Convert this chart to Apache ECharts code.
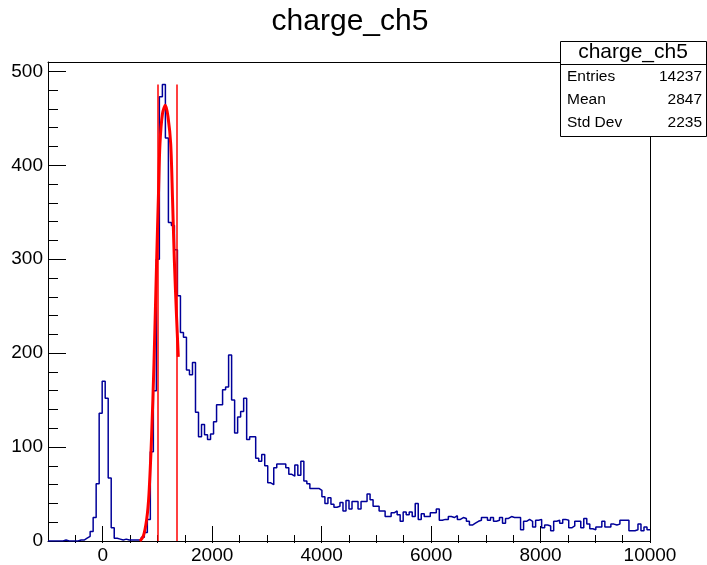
<!DOCTYPE html>
<html>
<head>
<meta charset="utf-8">
<title>charge_ch5</title>
<script src="https://cdn.jsdelivr.net/npm/echarts@6/dist/echarts.min.js"></script>
<style>
  html, body { margin: 0; padding: 0; background: #fff; }
  #chart { width: 707px; height: 565px; }
</style>
</head>
<body>
<div id="chart"></div>
<script>
// histogram binning (200 bins from -1000 to 10000)
const histMin = -1000
const histMax = 10000
const nBins = 200

// bin contents
const counts = [
  0, 0, 0, 0, 0, 1, 0, 0, 0, 0,
  1, 1, 3, 5, 10, 25, 61, 136, 170, 152,
  67, 14, 3, 2, 1, 2, 1, 1, 1, 1,
  1, 4, 9, 23, 95, 160, 300, 473, 486, 429,
  339, 336, 310, 261, 222, 217, 182, 177, 190, 137,
  111, 124, 113, 108, 114, 127, 145, 145, 161, 164,
  198, 150, 115, 132, 138, 152, 108, 111, 111, 88,
  85, 92, 80, 62, 60, 78, 82, 82, 82, 78,
  71, 69, 81, 70, 85, 64, 61, 56, 56, 56,
  54, 47, 40, 46, 39, 36, 37, 41, 32, 43,
  34, 42, 42, 34, 42, 42, 50, 44, 37, 37,
  32, 32, 26, 26, 30, 32, 28, 21, 31, 28,
  31, 26, 40, 23, 29, 26, 26, 30, 30, 34,
  22, 23, 23, 26, 25, 27, 23, 25, 24, 21,
  17, 19, 21, 22, 25, 25, 22, 25, 21, 22,
  25, 19, 24, 26, 25, 25, 25, 12, 21, 23,
  21, 15, 22, 23, 14, 17, 16, 11, 21, 22,
  19, 23, 22, 14, 16, 21, 21, 14, 24, 18,
  13, 12, 15, 15, 21, 15, 15, 18, 17, 18,
  22, 22, 22, 11, 11, 12, 18, 11, 15, 12,
]

// fitted curve, sampled by eye from the red line
const fitX = [680, 741, 803, 845, 894, 937, 986, 1019, 1046, 1092, 1145, 1192, 1242, 1275, 1308, 1348, 1381]
const fitY = [0, 5, 23, 50, 113, 190, 300, 370, 423, 455, 464, 452, 423, 365, 300, 240, 196]

// red markers of the fit range
const rangeLines = [1004, 1344]
const rangeTop = 486

// axis ticks
const xMajorTicks = [0, 2000, 4000, 6000, 8000, 10000]
const yMajorTicks = [0, 100, 200, 300, 400, 500]
const yMax = 510

// stats box
const statsTitle = 'charge_ch5'
const statsLabels = ['Entries', 'Mean', 'Std Dev']
const statsValues = ['14237', '2847', '2235']

const FONT = '"Liberation Sans", Arial, Helvetica, sans-serif'

// build step points: left edge of each bin, plus the right edge of the last one
const binWidth = (histMax - histMin) / nBins
const histPoints = counts.map((c, i) => [histMin + i * binWidth, c])
histPoints.push([histMax, counts[counts.length - 1]])

const fitPoints = fitX.map((x, i) => [x, fitY[i]])

// minor tick positions
const xMinorTicks = []
for (let v = histMin + 500; v < histMax; v += 500) {
  if (xMajorTicks.indexOf(v) < 0) xMinorTicks.push(v)
}
const yMinorTicks = []
for (let v = 20; v < 500; v += 20) {
  if (yMajorTicks.indexOf(v) < 0) yMinorTicks.push(v)
}

const grid = { left: 48, right: 57, top: 62, bottom: 22 }
const plotH = 565 - grid.top - grid.bottom

const chart = echarts.init(document.getElementById('chart'), null, { renderer: 'canvas' })

const statsX = 560
const statsW = 146
const statsTop = 41
const rowY = [77, 100, 123]

const graphics = [
  {
    type: 'text',
    x: 350,
    y: 22,
    z: 100,
    style: {
      text: 'charge_ch5',
      font: '30px ' + FONT,
      fill: '#000',
      textAlign: 'center',
      textVerticalAlign: 'middle',
    },
  },
  {
    type: 'rect',
    z: 100,
    shape: { x: statsX + 0.5, y: statsTop + 0.5, width: statsW, height: 95 },
    style: { fill: '#fff', stroke: '#000', lineWidth: 1 },
  },
  {
    type: 'line',
    z: 101,
    shape: { x1: statsX, y1: 64.5, x2: statsX + statsW + 1, y2: 64.5 },
    style: { stroke: '#000', lineWidth: 1 },
  },
  {
    type: 'text',
    z: 101,
    x: statsX + statsW / 2,
    y: 52,
    style: {
      text: statsTitle,
      font: '21px ' + FONT,
      fill: '#000',
      textAlign: 'center',
      textVerticalAlign: 'middle',
    },
  },
]

statsLabels.forEach((lab, i) => {
  graphics.push({
    type: 'text',
    z: 101,
    x: 567,
    y: rowY[i],
    style: { text: lab, font: '15.5px ' + FONT, fill: '#000', textAlign: 'left', textVerticalAlign: 'middle' },
  })
  graphics.push({
    type: 'text',
    z: 101,
    x: 702,
    y: rowY[i],
    style: { text: statsValues[i], font: '15.5px ' + FONT, fill: '#000', textAlign: 'right', textVerticalAlign: 'middle' },
  })
})

const black = { color: '#000', width: 1 }

// one axis helper, used for the labelled axes and the tick-only copies
function tickAxis(extra) {
  return Object.assign({
    type: 'value',
    axisLine: { show: false, onZero: false },
    axisTick: { show: false },
    axisLabel: { show: false },
    splitLine: { show: false },
  }, extra)
}

// x ticks: a top axis moved down onto the bottom edge, ticks pointing up into the frame
function xTopTicks(values, len) {
  return tickAxis({
    min: histMin,
    max: histMax,
    position: 'top',
    offset: -plotH,
    axisTick: { show: true, inside: false, length: len, customValues: values, lineStyle: black },
  })
}

const option = {
  animation: false,
  backgroundColor: '#fff',
  grid: {
    left: grid.left,
    right: grid.right,
    top: grid.top,
    bottom: grid.bottom,
  },
  xAxis: [
    tickAxis({
      min: histMin,
      max: histMax,
      position: 'bottom',
      axisLine: { show: true, onZero: false, lineStyle: black },
      axisTick: { show: true, inside: true, length: 15, customValues: xMajorTicks, lineStyle: black },
      axisLabel: {
        show: true,
        customValues: xMajorTicks,
        formatter: (v) => String(v),
        color: '#000',
        fontSize: 19,
        fontFamily: FONT,
        margin: 5,
      },
    }),
    xTopTicks(xMajorTicks, 15),
    xTopTicks(xMinorTicks, 8),
    // top edge of the frame
    tickAxis({
      min: histMin,
      max: histMax,
      position: 'top',
      offset: 0,
      axisLine: { show: true, onZero: false, lineStyle: black },
    }),
  ],
  yAxis: [
    tickAxis({
      min: 0,
      max: yMax,
      position: 'left',
      axisLine: { show: true, onZero: false, lineStyle: black },
      axisTick: { show: true, inside: true, length: 18, customValues: yMajorTicks, lineStyle: black },
      axisLabel: {
        show: true,
        customValues: yMajorTicks,
        formatter: (v) => String(v),
        color: '#000',
        fontSize: 19,
        fontFamily: FONT,
        margin: 5,
      },
    }),
    tickAxis({
      min: 0,
      max: yMax,
      position: 'left',
      offset: 0,
      axisTick: { show: true, inside: true, length: 10, customValues: yMinorTicks, lineStyle: black },
    }),
    // right edge of the frame
    tickAxis({
      min: 0,
      max: yMax,
      position: 'right',
      offset: 0,
      axisLine: { show: true, onZero: false, lineStyle: black },
    }),
  ],
  series: [
    {
      name: 'charge_ch5',
      type: 'line',
      xAxisIndex: 0,
      yAxisIndex: 0,
      step: 'end',
      symbol: 'none',
      data: histPoints,
      lineStyle: { color: '#000099', width: 1.5 },
      z: 3,
    },
    {
      name: 'fit',
      type: 'line',
      xAxisIndex: 0,
      yAxisIndex: 0,
      smooth: 0.3,
      symbol: 'none',
      data: fitPoints,
      lineStyle: { color: '#ff0000', width: 3 },
      z: 4,
      markLine: {
        silent: true,
        symbol: ['none', 'none'],
        label: { show: false },
        lineStyle: { color: '#ff0000', width: 1.5, type: 'solid' },
        data: rangeLines.map((x) => [{ coord: [x, 0] }, { coord: [x, rangeTop] }]),
      },
    },
  ],
  graphic: graphics,
}

chart.setOption(option)
</script>
</body>
</html>
